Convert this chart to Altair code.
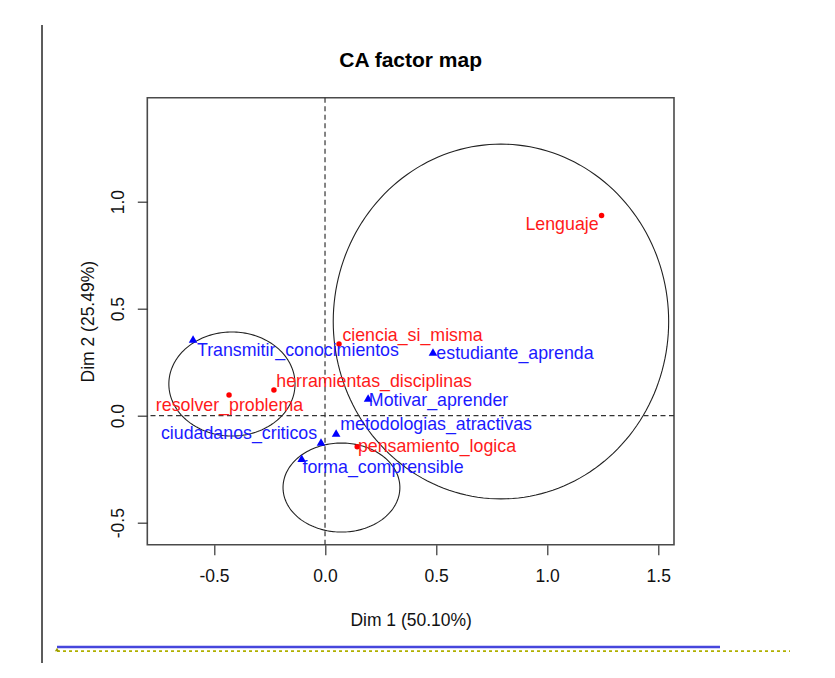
import altair as alt
import numpy as np
import pandas as pd

# ---- data ----
row_names = ["Lenguaje", "ciencia_si_misma", "herramientas_disciplinas",
             "resolver_problema", "pensamiento_logica"]
row_x = [1.245, 0.063, -0.230, -0.432, 0.145]
row_y = [0.935, 0.335, 0.120, 0.097, -0.145]
row_lab_x = [1.067, 0.394, 0.221, -0.430, 0.504]
row_lab_y = [0.891, 0.372, 0.157, 0.045, -0.146]

col_names = ["Transmitir_conocimientos", "estudiante_aprenda", "Motivar_aprender",
             "metodologias_atractivas", "ciudadanos_criticos", "forma_comprensible"]
col_x = [-0.594, 0.486, 0.194, 0.050, -0.018, -0.105]
col_y = [0.358, 0.298, 0.083, -0.081, -0.123, -0.199]
col_lab_x = [-0.122, 0.855, 0.511, 0.500, -0.387, 0.261]
col_lab_y = [0.302, 0.288, 0.069, -0.043, -0.085, -0.244]

ell_cx = [0.792, -0.419, 0.074]
ell_cy = [0.440, 0.148, -0.336]
ell_rx = [0.755, 0.284, 0.263]
ell_ry = [0.829, 0.243, 0.208]

x_ticks = [-0.5, 0.0, 0.5, 1.0, 1.5]
y_ticks = [-0.5, 0.0, 0.5, 1.0]
x_domain = [-0.800, 1.571]
y_domain = [-0.603, 1.486]

TITLE = "CA factor map"
FONT = "Liberation Sans"

rows_df = pd.DataFrame({"name": row_names, "x": row_x, "y": row_y,
                        "lx": row_lab_x, "ly": row_lab_y})
cols_df = pd.DataFrame({"name": col_names, "x": col_x, "y": col_y,
                        "lx": col_lab_x, "ly": col_lab_y})

t = np.linspace(0, 2 * np.pi, 181)
ell_parts = []
for i in range(len(ell_cx)):
    ell_parts.append(pd.DataFrame({
        "id": i, "k": np.arange(len(t)),
        "x": ell_cx[i] + ell_rx[i] * np.cos(t),
        "y": ell_cy[i] + ell_ry[i] * np.sin(t),
    }))
ell_df = pd.concat(ell_parts, ignore_index=True)

lab_expr = ("datum.value < 0 ? '-' + format(-datum.value, '.1f') : format(datum.value, '.1f')")

xs = alt.Scale(domain=x_domain, nice=False, zero=False)
ys = alt.Scale(domain=y_domain, nice=False, zero=False)

x_axis = alt.Axis(values=x_ticks, labelExpr=lab_expr, grid=False, domain=False,
                  tickSize=10, tickColor="#333", tickWidth=1.2,
                  labelFont=FONT, labelFontSize=17.5, labelColor="#111", labelPadding=13,
                  title="Dim 1 (50.10%)", titleFont=FONT, titleFontSize=17.5,
                  titleFontWeight="normal", titleColor="#111", titlePadding=26)
y_axis = alt.Axis(values=y_ticks, labelExpr=lab_expr, grid=False, domain=False,
                  tickSize=10, tickColor="#333", tickWidth=1.2,
                  labelFont=FONT, labelFontSize=17.5, labelColor="#111", labelPadding=10,
                  labelAngle=270, labelAlign="center", labelBaseline="bottom",
                  title="Dim 2 (25.49%)", titleFont=FONT, titleFontSize=17.5,
                  titleFontWeight="normal", titleColor="#111", titlePadding=12)

ellipses = alt.Chart(ell_df).mark_line(color="#222", strokeWidth=1.1, clip=True).encode(
    x=alt.X("x:Q", scale=xs, axis=x_axis),
    y=alt.Y("y:Q", scale=ys, axis=y_axis),
    detail="id:N",
    order="k:Q",
)

zero_df = pd.DataFrame({"v": [0.0]})
vline = alt.Chart(zero_df).mark_rule(color="#333", strokeWidth=1.2, strokeDash=[5, 3.5]).encode(
    x=alt.X("v:Q", scale=xs))
hline = alt.Chart(zero_df).mark_rule(color="#333", strokeWidth=1.2, strokeDash=[5, 3.5]).encode(
    y=alt.Y("v:Q", scale=ys))

row_pts = alt.Chart(rows_df).mark_point(shape="circle", filled=True, size=30,
                                        color="#ff0000", opacity=1).encode(
    x=alt.X("x:Q", scale=xs), y=alt.Y("y:Q", scale=ys))
row_txt = alt.Chart(rows_df).mark_text(font=FONT, fontSize=17.8, color="#ff1a1a",
                                       align="center", baseline="middle").encode(
    x=alt.X("lx:Q", scale=xs), y=alt.Y("ly:Q", scale=ys), text="name:N")

col_pts = alt.Chart(cols_df).mark_point(shape="triangle-up", filled=True, size=75,
                                        color="#0000ff", opacity=1).encode(
    x=alt.X("x:Q", scale=xs), y=alt.Y("y:Q", scale=ys))
col_txt = alt.Chart(cols_df).mark_text(font=FONT, fontSize=17.8, color="#1a1aff",
                                       align="center", baseline="middle").encode(
    x=alt.X("lx:Q", scale=xs), y=alt.Y("ly:Q", scale=ys), text="name:N")

# ---- title and decorations around the screenshot (outside the plot) ----
one = pd.DataFrame({"a": [0]})
title_txt = alt.Chart(one).mark_text(font=FONT, fontSize=21, fontWeight="bold", color="#000",
                                     align="center", baseline="alphabetic", text=TITLE).encode(
    x=alt.value(263.35), y=alt.value(-31))
left_bar = alt.Chart(one).mark_rule(color="#333", strokeWidth=1.6).encode(
    x=alt.value(-105.3), y=alt.value(-72.7), y2=alt.value(566))
blue_line = alt.Chart(one).mark_rule(color="#4646dc", strokeWidth=2.4).encode(
    x=alt.value(-90.3), x2=alt.value(572.7), y=alt.value(549.3))
olive_line = alt.Chart(one).mark_rule(color="#b0b000", strokeWidth=1.8, strokeDash=[3, 3]).encode(
    x=alt.value(-90.3), x2=alt.value(642.7), y=alt.value(553.5))
olive_tri = alt.Chart(one).mark_point(shape="triangle-up", filled=True, size=18,
                                      color="#9a9a00", opacity=1).encode(
    x=alt.value(-90.3), y=alt.value(551.8))

chart = alt.layer(
    ellipses, vline, hline, row_pts, row_txt, col_pts, col_txt,
    title_txt, left_bar, blue_line, olive_line, olive_tri,
).properties(
    width=526.7,
    height=447,
    padding={"left": 139.3, "top": 89.7, "right": 150, "bottom": 118},
    autosize=alt.AutoSizeParams(type="none"),
).configure_view(
    stroke="#4a4a4a", strokeWidth=1.6
)

chart.save("out.html", embed_options={"renderer": "svg", "actions": False})
